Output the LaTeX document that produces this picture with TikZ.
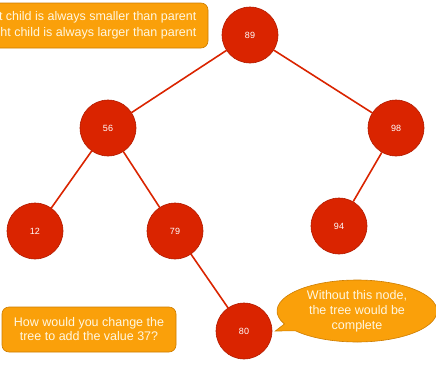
\documentclass[tikz,border=0pt]{standalone}
\usepackage{fontspec}
\setmainfont{Liberation Sans}
\usetikzlibrary{positioning}
\usetikzlibrary{shapes.callouts}

\definecolor{treered}{RGB}{218,36,0}
\definecolor{treeredline}{RGB}{178,28,0}
\definecolor{noteorange}{RGB}{250,160,10}
\definecolor{noteline}{RGB}{205,125,0}
\definecolor{notetext}{RGB}{255,247,225}

\begin{document}
\begin{tikzpicture}[x=1pt, y=-1pt, font=\fontsize{9}{11}\selectfont]
        \tikzstyle{tree_node} = [circle, fill=treered, draw=treeredline, line width=0.6, minimum size=56pt, inner sep=0pt, text=white]
        \tikzstyle{edge_style} = [treered, line width=1.6]
        \tikzstyle{note_style} = [rounded corners=7pt, rectangle, fill=noteorange, draw=noteline, line width=0.6, text=notetext, align=center]

        \useasboundingbox (0,0) rectangle (436,364);

        \node[tree_node] (n89) at (250,35) {89};
        \node[tree_node, on grid] (n56) [below left=93pt and 142pt of n89] {56};
        \node[tree_node, on grid] (n98) [below right=93pt and 146pt of n89] {98};
        \node[tree_node, on grid] (n12) [below left=103pt and 73pt of n56] {12};
        \node[tree_node, on grid] (n79) [below right=103pt and 67pt of n56] {79};
        \node[tree_node, on grid] (n94) [below left=98pt and 57pt of n98] {94};
        \node[tree_node, on grid] (n80) [below right=100pt and 69pt of n79] {80};

        \draw[edge_style] (n89) -- (n56);
        \draw[edge_style] (n89) -- (n98);
        \draw[edge_style] (n56) -- (n12);
        \draw[edge_style] (n56) -- (n79);
        \draw[edge_style] (n98) -- (n94);
        \draw[edge_style] (n79) -- (n80);

        \node[note_style, minimum width=238pt, minimum height=45pt, font=\fontsize{12.5}{16}\selectfont] (rule) at (89,25.5) {Left child is always smaller than parent\\Right child is always larger than parent};
        \node[note_style, minimum width=174pt, minimum height=45pt, font=\fontsize{12.5}{14}\selectfont] (question) at (89,329.5) {How would you change the\\tree to add the value 37?};

        \node[ellipse callout, fill=noteorange, draw=noteline, line width=0.6, text=notetext, align=center,
              minimum width=160pt, minimum height=62pt, inner sep=-4pt,
              callout absolute pointer={([xshift=3pt]n80.east)},
              font=\fontsize{12.5}{15}\selectfont] (remark) at (357,311) {Without this node,\\the tree would be\\complete};
    \end{tikzpicture}
\end{document}
